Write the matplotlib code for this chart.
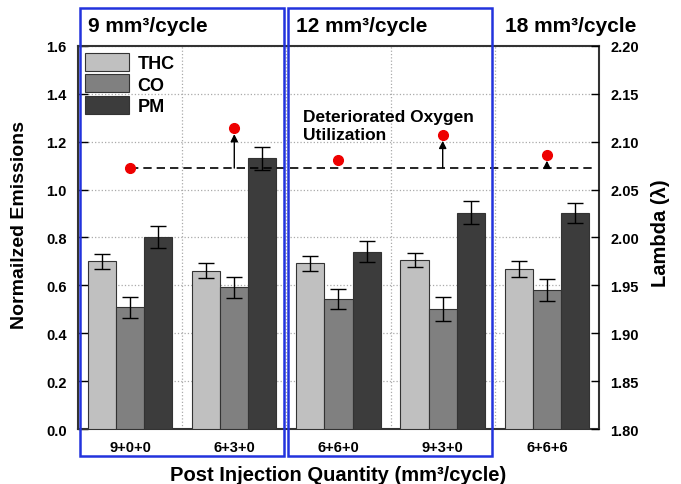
import matplotlib
matplotlib.use('Agg')
import matplotlib.pyplot as plt
import matplotlib.transforms as mtransforms
from matplotlib.patches import Rectangle
import numpy as np

plt.rcParams['font.family'] = ['Liberation Sans', 'DejaVu Sans']
plt.rcParams['font.weight'] = 'bold'

# Datos
categorias = ['9+0+0', '6+3+0', '6+6+0', '9+3+0', '6+6+6']
thc = [0.70, 0.661, 0.693, 0.706, 0.667]
thc_err = [0.030, 0.032, 0.031, 0.031, 0.033]
co = [0.508, 0.592, 0.543, 0.501, 0.582]
co_err = [0.043, 0.043, 0.043, 0.050, 0.046]
pm = [0.803, 1.131, 0.741, 0.904, 0.902]
pm_err = [0.047, 0.049, 0.043, 0.049, 0.043]
lambda_vals = [2.0725, 2.114, 2.0813, 2.107, 2.0862]
flechas = [1, 3, 4]  # grupos con flecha de deterioro
titulos_grupo = ['9 mm³/cycle', '12 mm³/cycle', '18 mm³/cycle']
inicio_grupo = [-0.5, 1.5, 3.5]

fig = plt.figure(figsize=(6.81, 4.85), dpi=100)
ax = fig.add_axes([0.1145, 0.1134, 0.7651, 0.7897])
ax2 = ax.twinx()

x = np.arange(len(categorias))
ancho = 0.27
borde = '#333333'
err_kw = dict(elinewidth=1, capthick=1)
ax.bar(x - ancho, thc, ancho, yerr=thc_err, color='#c0c0c0', edgecolor=borde, linewidth=0.8,
       capsize=5.5, error_kw=err_kw, label='THC', zorder=3)
ax.bar(x, co, ancho, yerr=co_err, color='#808080', edgecolor=borde, linewidth=0.8,
       capsize=5.5, error_kw=err_kw, label='CO', zorder=3)
ax.bar(x + ancho, pm, ancho, yerr=pm_err, color='#3c3c3c', edgecolor=borde, linewidth=0.8,
       capsize=5.5, error_kw=err_kw, label='PM', zorder=3)

ax.set_xlim(-0.5, len(categorias) - 0.5)
ax.set_ylim(0, 1.6)
ax.set_yticks(np.arange(0, 1.61, 0.2))
ax.set_xticks(x)
ax.set_xticklabels(categorias)
ax.set_xticks(x[:-1] + 0.5, minor=True)
ax.grid(True, axis='y', which='major', linestyle=':', color='#aaaaaa', linewidth=0.9, zorder=0)
ax.grid(True, axis='x', which='minor', linestyle=':', color='#aaaaaa', linewidth=0.9, zorder=0)
ax.tick_params(axis='y', direction='in', length=7, width=1, labelsize=10.5, pad=8)
ax.tick_params(axis='x', which='both', length=0, labelsize=10.5, pad=8)
ax.set_ylabel('Normailzed Emissions', fontsize=14, fontweight='bold')
ax.yaxis.set_label_coords(-0.095, 0.535)
ax.set_xlabel('Post Injection Quantity (mm³/cycle)', fontsize=14.5, fontweight='bold', labelpad=8)
for s in ax.spines.values():
    s.set_color('#333333')
    s.set_linewidth(1.5)

ax.legend(loc='upper left', fontsize=13, frameon=False, handlelength=2.4, handleheight=1.15,
          labelspacing=0.12, borderaxespad=0.3, borderpad=0.1, handletextpad=0.5)

# Eje derecho: Lambda
ax2.set_ylim(1.8, 2.2)
ax2.set_yticks(np.arange(1.8, 2.201, 0.05))
ax2.tick_params(axis='y', direction='in', length=6, width=1, labelsize=10.5, pad=8)
ax2.set_ylabel('Lambda (λ)', fontsize=14.5, fontweight='bold', rotation=90)
ax2.yaxis.set_label_coords(1.1, 0.515)
for s in ax2.spines.values():
    s.set_visible(False)

ax2.hlines(lambda_vals[0], x[0], x[-1] + 0.46, colors='black', linestyles=(0, (5, 3)), linewidth=1.2, zorder=4)
for i in flechas:
    ax2.annotate('', xy=(x[i], lambda_vals[i] - 0.006), xytext=(x[i], lambda_vals[0]),
                 arrowprops=dict(arrowstyle='-|>', color='black', lw=1, mutation_scale=11,
                                 shrinkA=0, shrinkB=0), zorder=5)
ax2.plot(x, lambda_vals, 'o', color='#ee0000', markersize=7, linestyle='none', zorder=6)

ax2.text(1.66, 2.103, 'Deteriorated Oxygen\nUtilization', fontsize=12.5, fontweight='bold',
         ha='left', va='baseline', linespacing=1.25)

# Cajas azules y titulos de grupo
trans = mtransforms.blended_transform_factory(ax.transData, fig.transFigure)
for j in range(2):
    caja = Rectangle((inicio_grupo[j] + 0.015, 0.0584), 1.96, 0.9225, transform=trans,
                     fill=False, edgecolor='#2233dd', linewidth=1.8, clip_on=False)
    fig.patches.append(caja)
for j, t in enumerate(titulos_grupo):
    fig.text(inicio_grupo[j] + 0.095, 0.934, t, transform=trans, fontsize=15,
             fontweight='bold', ha='left', va='baseline')

fig.savefig('out.png', dpi=100)
